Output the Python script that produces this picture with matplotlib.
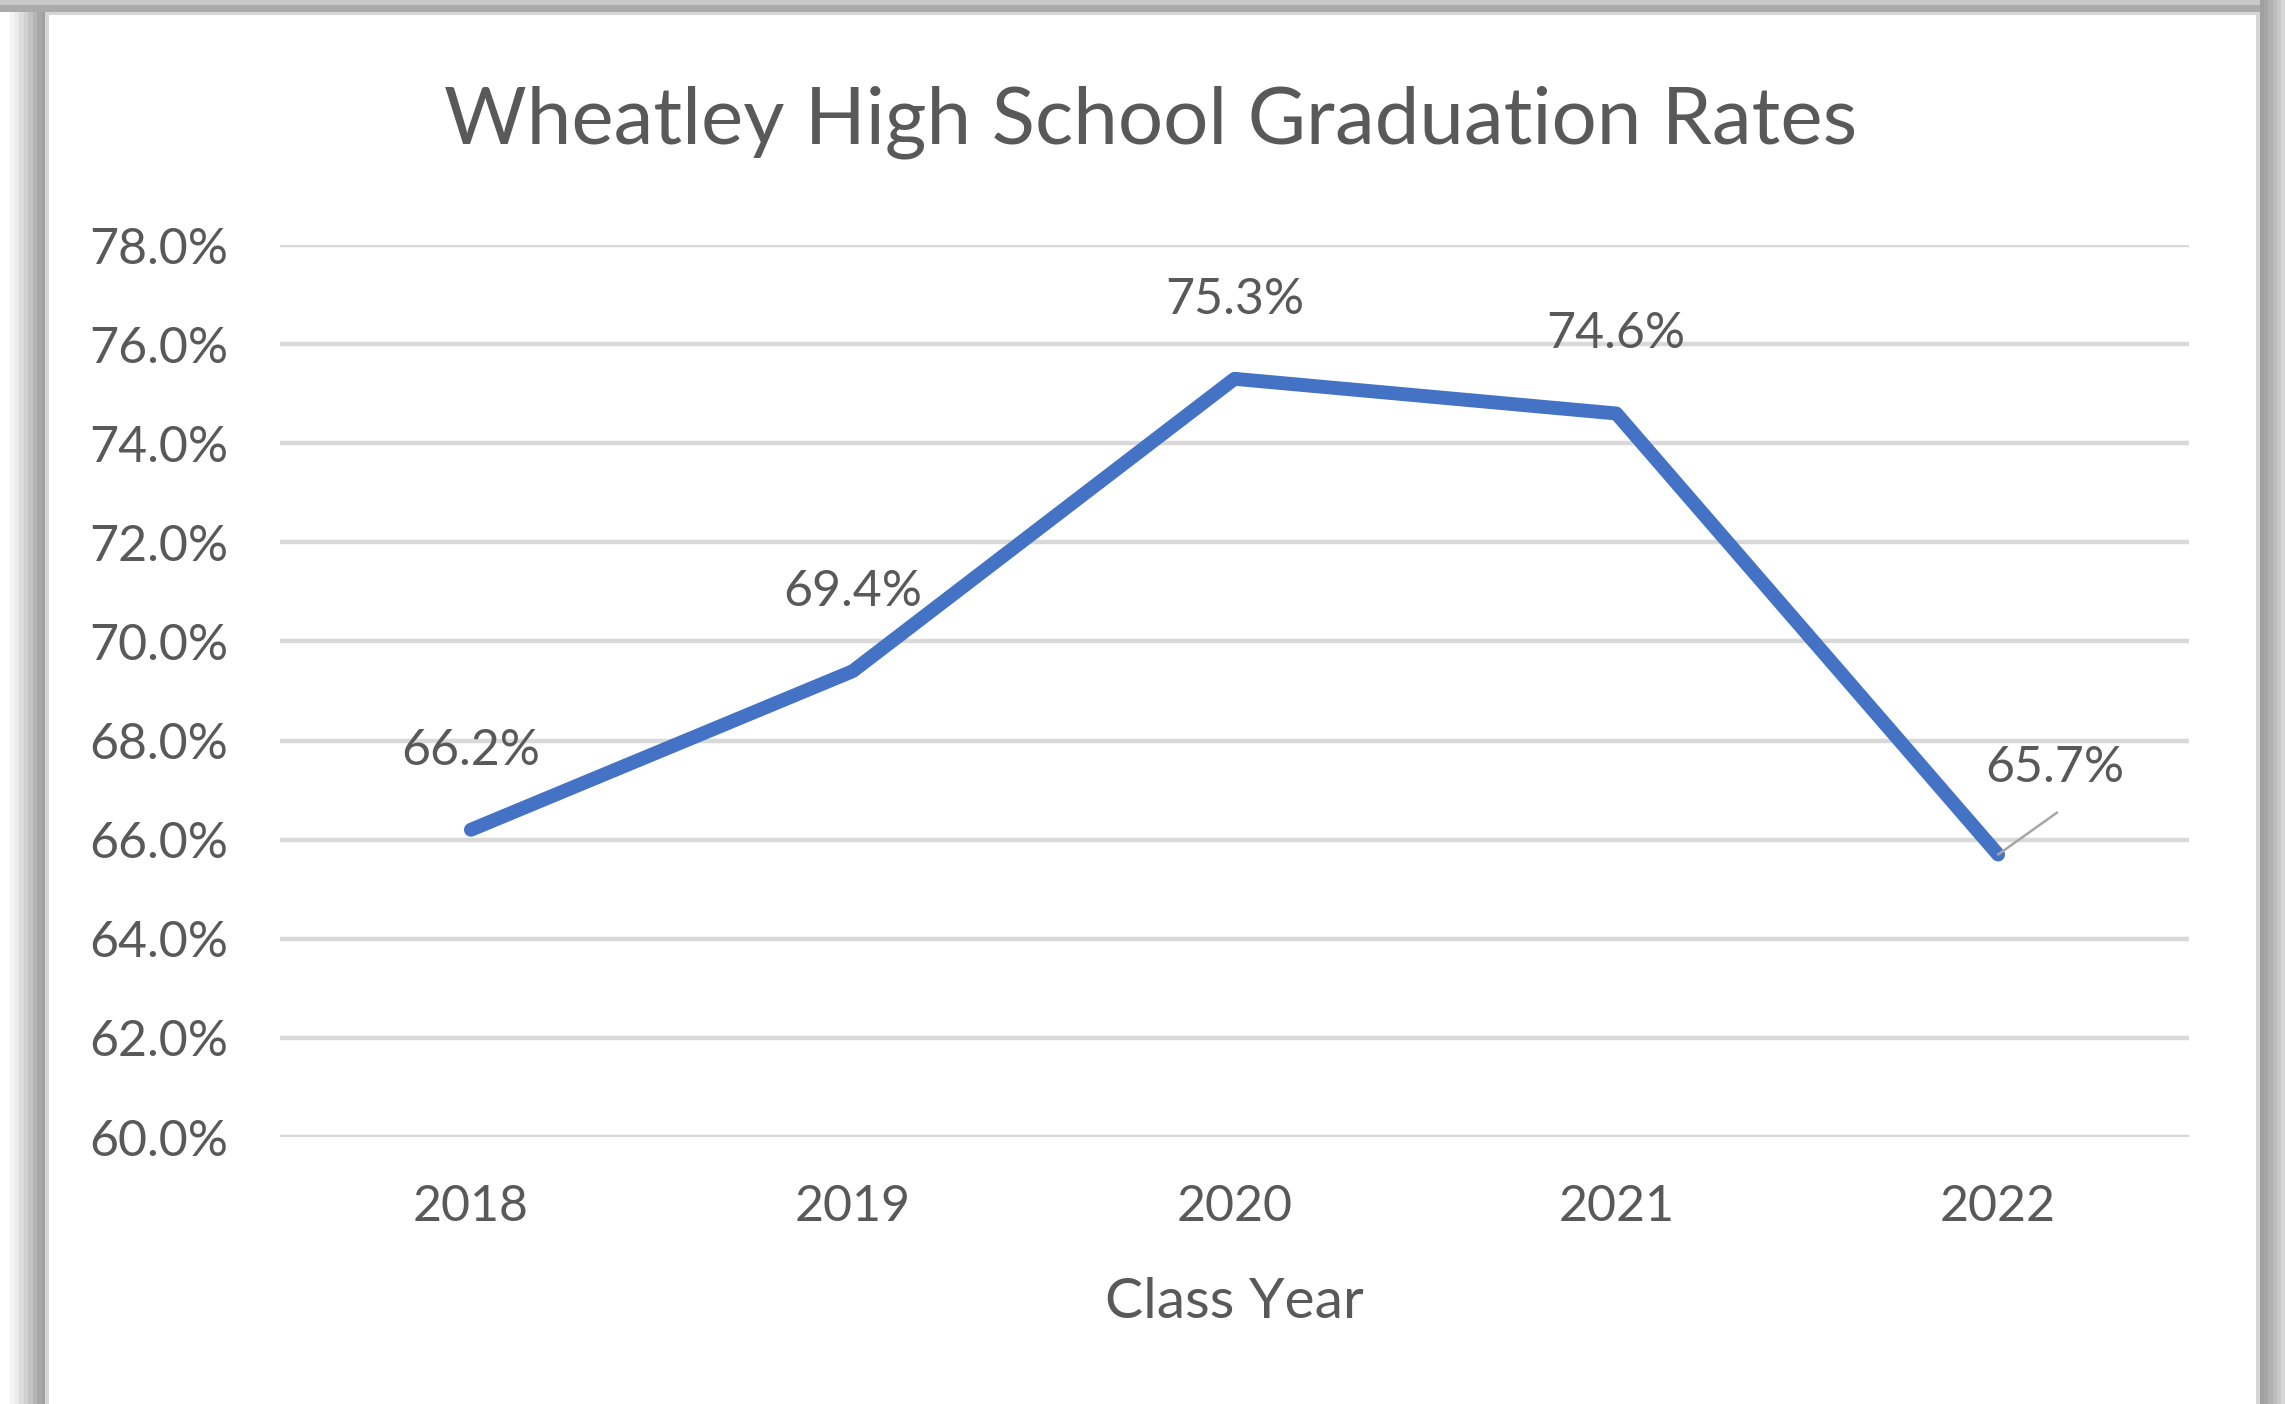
import matplotlib
matplotlib.use("Agg")
import matplotlib.pyplot as plt
from matplotlib.patches import Rectangle
from matplotlib.ticker import FuncFormatter

years = ["2018", "2019", "2020", "2021", "2022"]
rates = [66.2, 69.4, 75.3, 74.6, 65.7]
rate_labels = ["66.2%", "69.4%", "75.3%", "74.6%", "65.7%"]
y_ticks = [60, 62, 64, 66, 68, 70, 72, 74, 76, 78]

W, H = 2285, 1404
TXT = "#595959"
plt.rcParams["font.family"] = ["Lato", "DejaVu Sans"]

fig = plt.figure(figsize=(W / 100, H / 100), dpi=100)
fig.patch.set_facecolor("white")


def px_rect(x0, y0, x1, y1, color):
    # rectangle given in image pixels (origin top-left)
    fig.patches.append(Rectangle((x0 / W, 1 - y1 / H), (x1 - x0) / W, (y1 - y0) / H,
                                 transform=fig.transFigure, facecolor=color,
                                 edgecolor="none", zorder=-10))


# shadow frame around the chart area
left_cols = ["#F4F4F4", "#EAEAEA", "#DDDDDD", "#D0D0D0", "#C2C2C2", "#B4B4B4", "#A8A8A8", "#A0A0A0"]
for i, c in enumerate(left_cols):
    px_rect(10 + i * 4.5, 0, 10 + (i + 1) * 4.5, H, c)
px_rect(0, 0, W, 5, "#C9C9C9")
px_rect(0, 5, W, 12, "#ABABAB")
right_cols = ["#A0A0A0", "#A6A6A6", "#B0B0B0", "#BCBCBC", "#C8C8C8", "#D6D6D6"]
for i, c in enumerate(right_cols):
    px_rect(2260 + i * 4.2, 0, 2260 + (i + 1) * 4.2, H, c)
px_rect(45, 12, 2260, H, "#D6D6D6")
px_rect(49, 15, 2256, H, "white")

ax = fig.add_axes([280 / W, 1 - 1137 / H, (2189 - 280) / W, (1137 - 245) / H])
ax.set_facecolor("none")
x = list(range(len(years)))
ax.plot(x, rates, color="#4472C4", lw=10, solid_joinstyle="round",
        solid_capstyle="round", zorder=3)

ax.set_xlim(-0.5, len(years) - 0.5)
ax.set_ylim(60, 78)
ax.set_yticks(y_ticks)
ax.yaxis.set_major_formatter(FuncFormatter(lambda v, p: f"{v:.1f}%"))
ax.set_xticks(x)
ax.set_xticklabels(years)
ax.grid(axis="y", color="#D9D9D9", lw=3.2, zorder=0)
ax.tick_params(length=0, labelsize=36, labelcolor=TXT)
ax.tick_params(axis="y", pad=37)
ax.tick_params(axis="x", pad=34)
for s in ax.spines.values():
    s.set_visible(False)

# data labels
for i, (v, lab) in enumerate(zip(rates, rate_labels)):
    if i == len(rates) - 1:
        ax.annotate("", xy=(i, v), xytext=(59, 42), textcoords="offset pixels",
                    arrowprops=dict(arrowstyle="-", color="#A6A6A6", lw=1.8,
                                    shrinkA=0, shrinkB=0))
        ax.annotate(lab, xy=(i, v), xytext=(57, 87), textcoords="offset pixels",
                    ha="center", va="center", fontsize=36, color=TXT)
    else:
        ax.annotate(lab, xy=(i, v), xytext=(0, 79), textcoords="offset pixels",
                    ha="center", va="center", fontsize=36, color=TXT)

fig.text(1234 / W, 1 - 1302 / H, "Class Year", ha="center", va="center",
         fontsize=41, color=TXT)
fig.text(1151 / W, 1 - 122 / H, "Wheatley High School Graduation Rates",
         ha="center", va="center", fontsize=57.5, color=TXT)

fig.savefig("out.png", dpi=100)
